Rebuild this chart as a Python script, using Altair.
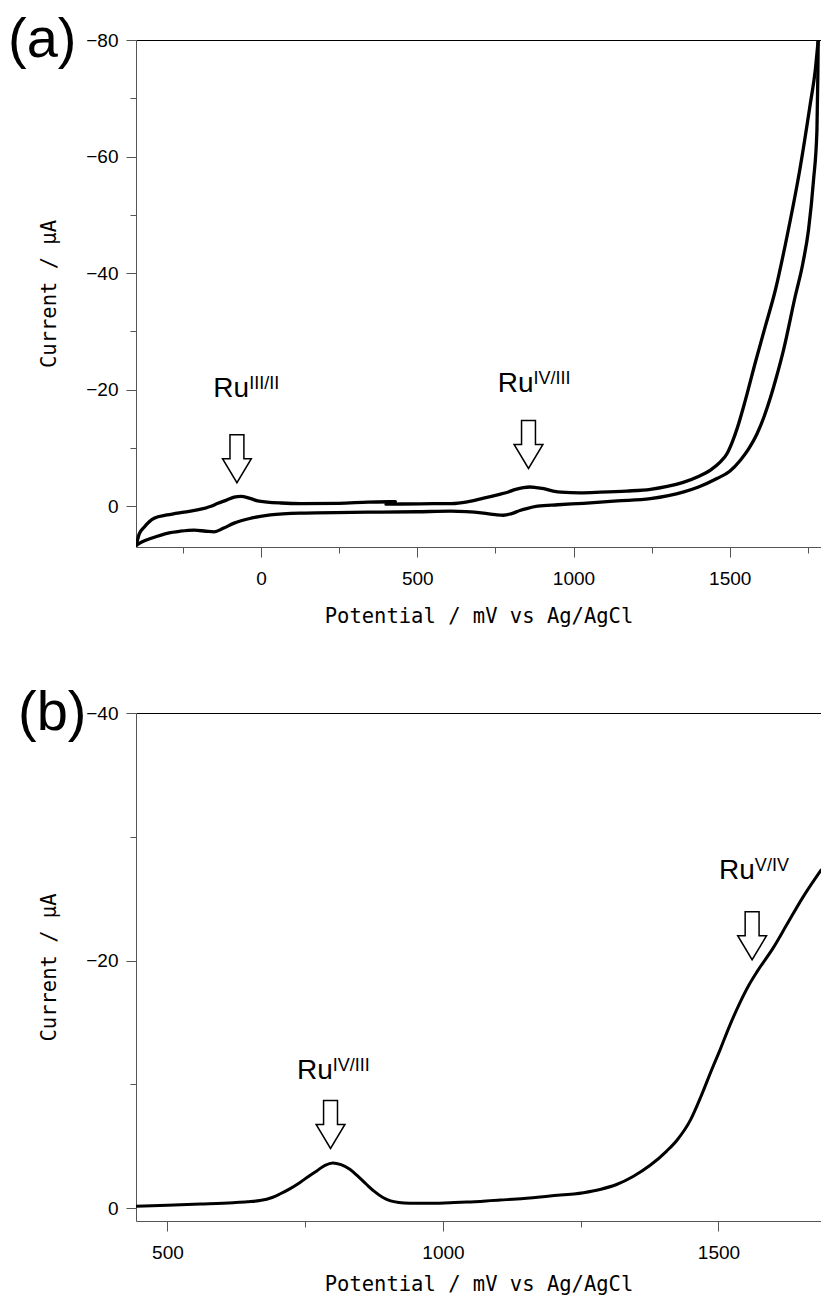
import altair as alt
import pandas as pd

# ---------------- (a) cyclic voltammogram ----------------
# the closed scan is stored as three x-monotone branches:
# "start" runs from 400 mV to the positive vertex, "return" runs back to the
# negative vertex, and "finish" runs from there up to the starting point.
cv_potential = [
    # start: 400 -> 1783 mV
    400, 450, 550, 610, 660, 712, 760, 789, 815, 840, 860, 880, 905, 935, 960,
    1022, 1086, 1170, 1246, 1300, 1351, 1400, 1438, 1470, 1492, 1508, 1524, 1550,
    1582, 1614, 1646, 1684, 1725, 1757, 1774, 1783,
    # return: 1783 -> -399 mV
    1783, 1782, 1779, 1768, 1752, 1734, 1709, 1672, 1650, 1630, 1610, 1587, 1560,
    1534, 1500, 1459, 1400, 1353, 1246, 1140, 1032, 950, 885, 850, 831, 800, 776,
    750, 712, 607, 500, 342, 128, 30, -32, -86, -121, -150, -176, -214, -260, -297,
    -351, -380, -399,
    # finish: -399 -> 430 mV
    -399, -390, -374, -342, -300, -246, -200, -160, -138, -112, -86, -64, -38, -10,
    20, 64, 128, 250, 342, 415, 430,
]
cv_current = [
    -0.35, -0.38, -0.43, -0.45, -0.75, -1.37, -2.0, -2.4, -2.9, -3.2, -3.3, -3.2, -3.0, -2.6, -2.4,
    -2.3, -2.4, -2.6, -2.9, -3.4, -4.1, -5.1, -6.2, -7.6, -9.1, -11.0, -13.4, -18.2,
    -24.7, -30.9, -37.1, -46.5, -58.0, -68.8, -75.0, -80.0,
    -80.0, -74.3, -64.5, -55.9, -47.4, -41.7, -35.9, -26.8, -22.3, -18.6, -15.4, -12.4, -9.8,
    -7.9, -6.0, -4.75, -3.3, -2.46, -1.3, -0.9, -0.5, -0.25, 0.0, 0.4, 0.69, 1.3, 1.55,
    1.45, 1.2, 0.86, 0.95, 1.03, 1.2, 1.5, 2.06, 2.9, 3.8, 4.4, 4.3, 4.1, 4.3, 4.6,
    5.5, 6.1, 6.7,
    6.7, 4.8, 3.6, 2.06, 1.5, 1.0, 0.6, 0.0, -0.5, -1.0, -1.55, -1.7, -1.4, -0.9,
    -0.7, -0.55, -0.45, -0.5, -0.7, -0.77, -0.78,
]
cv_branch = ["start"] * 36 + ["return"] * 45 + ["finish"] * 21

# ---------------- (b) differential pulse voltammogram ----------------
dpv_potential = [
    443, 500, 560, 619, 645, 668, 690, 704, 722, 740, 756, 771, 786, 800, 815, 831,
    846, 861, 876, 891, 905, 920, 940, 970, 1013, 1044, 1104, 1134, 1194, 1255, 1285,
    1315, 1345, 1376, 1406, 1425, 1449, 1469, 1487, 1503, 1520, 1539, 1555, 1570,
    1599, 1624, 1653, 1686,
]
dpv_current = [
    -0.15, -0.22, -0.32, -0.43, -0.5, -0.6, -0.85, -1.13, -1.55, -2.05, -2.55, -3.0, -3.45, -3.64, -3.5, -3.13,
    -2.55, -1.92, -1.32, -0.85, -0.58, -0.45, -0.39, -0.38, -0.43, -0.48, -0.65, -0.72, -0.97, -1.24, -1.5,
    -1.9, -2.55, -3.45, -4.6, -5.5, -7.1, -9.1, -11.1, -12.8, -14.7, -16.6, -18.0, -19.1,
    -21.0, -22.9, -25.1, -27.3,
]

# ---------------- redox-couple annotations ----------------
a_couples = ["III/II", "IV/III"]
a_label_pot = [-38, 872]
a_label_cur = [-18.7, -19.6]
a_arrow_pot = [-77, 856]
a_arrow_cur = [-8.15, -10.6]

b_couples = ["IV/III", "V/IV"]
b_label_pot = [800, 1566]
b_label_cur = [-10.4, -26.6]
b_arrow_pot = [796, 1561]
b_arrow_cur = [-6.75, -22.0]

# open downward block arrow, unit coordinates (scaled by the symbol size)
ARROW_PATH = "M -0.29 -1 L 0.29 -1 L 0.29 0 L 0.6 0 L 0 1 L -0.6 0 L -0.29 0 Z"
AXIS_GRAY = "#555555"
SANS = "Liberation Sans"
TITLE_FONT = "DejaVu Sans Mono"


def panel(curve, labels, arrows, tag, tag_x, x_domain, y_domain,
          x_major, x_minor, y_major, y_minor, width, height, line_width, x_title_pad):
    xs = alt.Scale(domain=x_domain, nice=False, zero=False)
    ys = alt.Scale(domain=y_domain, reverse=True, nice=False, zero=False)

    major_x = alt.Axis(orient="bottom", values=x_major, format="d",
                       title="Potential / mV vs Ag/AgCl", tickSize=10,
                       labelPadding=12, titlePadding=x_title_pad, grid=False)
    major_y = alt.Axis(orient="left", values=y_major, format="d",
                       title="Current / μA", tickSize=10, labelPadding=8,
                       titlePadding=26, grid=False)
    minor_x = alt.Axis(orient="bottom", values=x_minor, labels=False, title=None,
                       domain=False, tickSize=6, grid=False)
    minor_y = alt.Axis(orient="left", values=y_minor, labels=False, title=None,
                       domain=False, tickSize=6, grid=False)
    top_x = alt.Axis(orient="top", labels=False, ticks=False, title=None,
                     domainColor="black", grid=False)

    arrow = alt.Chart(arrows).mark_point(
        shape=ARROW_PATH, size=2304, filled=True, fill="white", stroke="black",
        strokeWidth=1.5, opacity=1, fillOpacity=1,
    ).encode(
        x=alt.X("potential:Q", scale=xs, axis=minor_x),
        y=alt.Y("current:Q", scale=ys, axis=minor_y),
    )
    line = alt.Chart(curve).mark_line(
        color="black", strokeWidth=line_width, interpolate="monotone", clip=True,
        strokeJoin="round", strokeCap="round",
    ).encode(
        x=alt.X("potential:Q", scale=xs, axis=major_x),
        y=alt.Y("current:Q", scale=ys, axis=major_y),
        detail="branch:N",
        order="step:Q",
    )
    ru = alt.Chart(labels).mark_text(
        text="Ru", font=SANS, fontSize=28, align="right", baseline="alphabetic", color="black",
    ).encode(
        x=alt.X("potential:Q", scale=xs, axis=top_x),
        y=alt.Y("current:Q", scale=ys, axis=None),
    )
    sup = alt.Chart(labels).mark_text(
        font=SANS, fontSize=18, align="left", baseline="alphabetic", dy=-8, color="black",
    ).encode(
        x=alt.X("potential:Q", scale=xs, axis=None),
        y=alt.Y("current:Q", scale=ys, axis=None),
        text="couple:N",
    )
    tag_text = alt.Chart(pd.DataFrame({"tag": [tag]})).mark_text(
        font=SANS, fontSize=56, align="left", baseline="middle", color="black",
    ).encode(x=alt.value(tag_x), y=alt.value(0), text="tag:N")

    return (
        alt.layer(arrow, line, ru, sup, tag_text)
        .resolve_axis(x="independent", y="independent")
        .properties(width=width, height=height)
    )


cv_df = pd.DataFrame({"potential": cv_potential, "current": cv_current,
                      "branch": cv_branch, "step": list(range(len(cv_potential)))})
dpv_df = pd.DataFrame({"potential": dpv_potential, "current": dpv_current,
                       "branch": ["dpv"] * len(dpv_potential),
                       "step": list(range(len(dpv_potential)))})

a_label_df = pd.DataFrame({"potential": a_label_pot, "current": a_label_cur, "couple": a_couples})
a_arrow_df = pd.DataFrame({"potential": a_arrow_pot, "current": a_arrow_cur})
b_label_df = pd.DataFrame({"potential": b_label_pot, "current": b_label_cur, "couple": b_couples})
b_arrow_df = pd.DataFrame({"potential": b_arrow_pot, "current": b_arrow_cur})

panel_a = panel(cv_df, a_label_df, a_arrow_df, "(a)", -128,
                [-400, 1792], [-80, 7],
                [0, 500, 1000, 1500], [-250, 250, 750, 1250, 1750],
                [-80, -60, -40, -20, 0], [-70, -50, -30, -10],
                685, 507, 3.3, 18)
panel_b = panel(dpv_df, b_label_df, b_arrow_df, "(b)", -118,
                [443, 1686], [-40, 1.05],
                [500, 1000, 1500], [750, 1250],
                [-40, -20, 0], [-30, -10],
                685, 508, 3.0, 12)

chart = (
    alt.vconcat(panel_a, panel_b, spacing=58)
    .configure_axis(
        labelFont=SANS, labelFontSize=19, labelColor="black",
        titleFont=TITLE_FONT, titleFontSize=20.5, titleFontWeight="normal", titleColor="black",
        domainColor=AXIS_GRAY, tickColor=AXIS_GRAY, domainWidth=1, tickWidth=1,
    )
    .configure_view(stroke=None)
    .properties(padding={"left": 8, "top": 12, "right": 0, "bottom": 0})
)

chart.save("out.html", embed_options={"renderer": "svg", "actions": False})
